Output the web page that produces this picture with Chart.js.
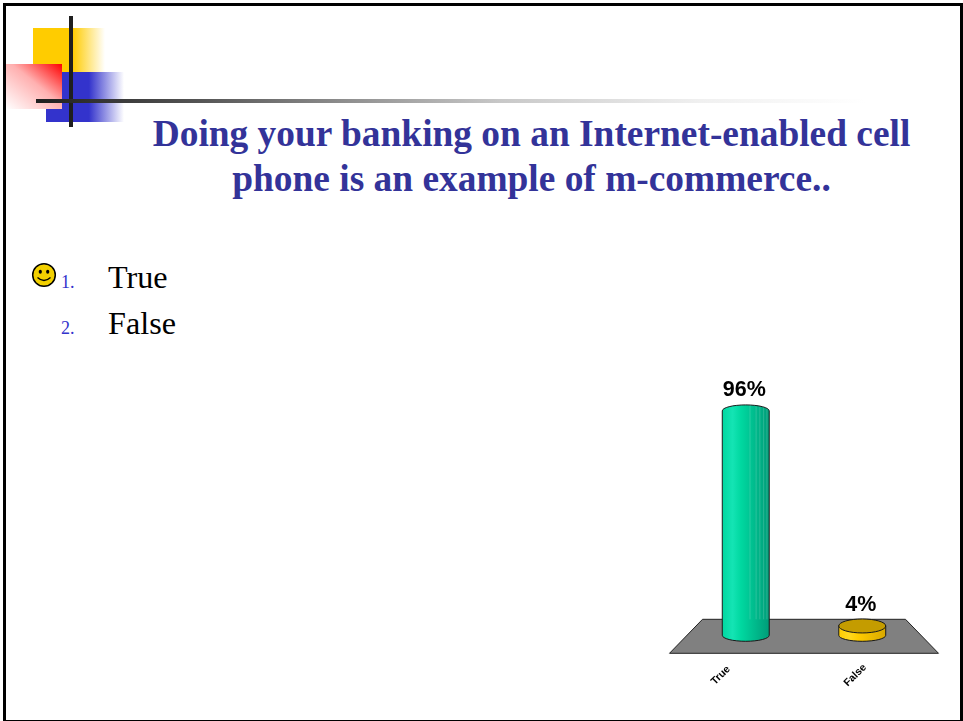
<!DOCTYPE html>
<html>
<head>
<meta charset="utf-8">
<title>m-commerce poll</title>
<script src="https://cdn.jsdelivr.net/npm/chart.js@4"></script>
<style>
    html, body { margin: 0; padding: 0; background: #fff; }
    .slide { position: relative; width: 963px; height: 721px; overflow: hidden; }
    .frame { position: absolute; left: 3px; top: 3px; width: 954px; height: 714px; border: 3px solid #000; }
    .deco { position: absolute; }
    .yellow { left: 33px; top: 28px; width: 72px; height: 44px; background: linear-gradient(90deg, #ffcc00 0, #ffcc00 55%, #fff 100%); }
    .blue { left: 46px; top: 72px; width: 78px; height: 50px; background: linear-gradient(90deg, #3333cc 0, #3333cc 55%, #fff 100%); }
    .red { left: 6px; top: 64px; width: 56px; height: 45px; background: linear-gradient(to top right, #fff 0, #ffb0b0 55%, #ff0000 100%); }
    .vline { left: 69px; top: 16px; width: 4px; height: 111px; background: #1f1f1f; }
    .hline { left: 36px; top: 99px; width: 830px; height: 4px;
        background: linear-gradient(90deg, #1f1f1f 0, #555 164px, #909090 314px, #c8c8c8 464px, #f0f0f0 664px, #fff 100%); }
    .title { position: absolute; left: 100px; width: 863px; top: 111px; text-align: center; color: #333399;
        font: bold 37.4px/45px "Liberation Serif", serif; }
    .item { position: absolute; left: 108px; font: 32.2px "Liberation Serif", serif; color: #000; }
    .num { position: absolute; left: 61px; font: 18px "Liberation Serif", serif; color: #3333cc; }
    .smiley { position: absolute; left: 31px; top: 262px; }
    #chartBox { position: absolute; left: 660px; top: 370px; width: 290px; height: 340px; }
</style>
</head>
<body>
<div class="slide">
    <div class="deco yellow"></div>
    <div class="deco blue"></div>
    <div class="deco red"></div>
    <div class="deco vline"></div>
    <div class="deco hline"></div>
    <div class="frame"></div>
    <div class="title">Doing your banking on an Internet-enabled cell<br>phone is an example of m-commerce..</div>
    <svg class="smiley" width="26" height="26" viewBox="0 0 26 26">
        <circle cx="13" cy="13" r="11.3" fill="#f2d000" stroke="#000" stroke-width="1.5"/>
        <ellipse cx="9.3" cy="9.8" rx="1.6" ry="2" fill="#000"/>
        <ellipse cx="16.7" cy="9.8" rx="1.6" ry="2" fill="#000"/>
        <path d="M6.5 15.5 Q13 21.5 19.5 15.5" fill="none" stroke="#000" stroke-width="1.3"/>
    </svg>
    <div class="num" style="top:272px">1.</div>
    <div class="item" style="top:259px">True</div>
    <div class="num" style="top:318px">2.</div>
    <div class="item" style="top:305px">False</div>
    <div id="chartBox"><canvas id="poll"></canvas></div>
</div>
<script>
const categories = ['True', 'False'];
const percentages = [96, 4];
const bodyColors = ['#00d8a0', '#ffcc00'];
const lightColors = ['#14e4b4', '#ffd820'];
const shadeColors = ['#009c78', '#d8a800'];
const topColors = ['#00d8a0', '#c49c00'];
// how far each rotated axis label sits left of its bar
const labelShift = [25, 7];

// ----- grey floor under the cylinders, hung off the chart area -----//
const floorPlugin = {
    id: 'floor',
    beforeDatasetsDraw(chart) {
        const { ctx, chartArea: a } = chart;
        ctx.save();
        ctx.fillStyle = '#808080';
        ctx.strokeStyle = '#222';
        ctx.lineWidth = 1;
        ctx.beginPath();
        ctx.moveTo(a.left + 15, a.bottom - 16);
        ctx.lineTo(a.right - 15, a.bottom - 16);
        ctx.lineTo(a.right + 18, a.bottom + 18);
        ctx.lineTo(a.left - 18, a.bottom + 18);
        ctx.closePath();
        ctx.fill();
        ctx.stroke();
        ctx.restore();
    }
};

// facets of the cylinder wall, bright on the left and ribbed towards the right
function wallGradient(ctx, left, right, i) {
    const g = ctx.createLinearGradient(left, 0, right, 0);
    g.addColorStop(0, bodyColors[i]);
    g.addColorStop(0.22, lightColors[i]);
    g.addColorStop(0.4, bodyColors[i]);
    g.addColorStop(1, shadeColors[i]);
    return g;
}

//----- turns each bar into a cylinder, then writes the value and category text -----//
const cylinderPlugin = {
    id: 'cylinder',
    afterDatasetsDraw(chart) {
        const { ctx, chartArea: a } = chart;
        const meta = chart.getDatasetMeta(0);
        meta.data.forEach((bar, i) => {
            const left = bar.x - bar.width / 2, right = bar.x + bar.width / 2;
            const rx = bar.width / 2, ry = 6;
            ctx.save();
            ctx.strokeStyle = '#1a1a1a';
            ctx.lineWidth = 1;
            ctx.fillStyle = wallGradient(ctx, left, right, i);
            ctx.beginPath();
            ctx.moveTo(left, bar.y);
            ctx.lineTo(left, bar.base);
            ctx.ellipse(bar.x, bar.base, rx, ry, 0, Math.PI, 0, true);
            ctx.lineTo(right, bar.y);
            ctx.ellipse(bar.x, bar.y, rx, ry, 0, 0, Math.PI, true);
            ctx.closePath();
            ctx.fill();
            // thin ribs on the shaded side, above the floor's back edge
            ctx.save();
            ctx.clip();
            ctx.fillStyle = 'rgba(255,255,255,0.16)';
            [0.58, 0.71, 0.79, 0.87, 0.94].forEach(f => {
                ctx.fillRect(left + bar.width * f, bar.y - ry, 1, Math.max(0, a.bottom - 16 - bar.y + ry));
            });
            ctx.restore();
            ctx.stroke();
            // the top cap only shows as a separate face on the short cylinder
            if (percentages[i] < 50) {
                ctx.fillStyle = topColors[i];
                ctx.beginPath();
                ctx.ellipse(bar.x, bar.y, rx, ry + 1, 0, 0, Math.PI * 2);
                ctx.fill();
                ctx.stroke();
            }
            ctx.fillStyle = '#000';
            ctx.textAlign = 'center';
            ctx.textBaseline = 'alphabetic';
            ctx.font = 'bold 21.5px "Liberation Sans", Arial, sans-serif';
            ctx.fillText(percentages[i] + '%', bar.x - 1.5, bar.y - 14.5);
            ctx.translate(bar.x - labelShift[i], a.bottom + 40);
            ctx.rotate(-Math.PI / 4);
            ctx.font = 'bold 10.5px "Liberation Sans", Arial, sans-serif';
            ctx.textBaseline = 'middle';
            ctx.fillText(categories[i], 0, 0);
            ctx.restore();
        });
    }
};

new Chart(document.getElementById('poll'), {
    type: 'bar',
    data: {
        labels: categories,
        datasets: [{
            data: percentages,
            backgroundColor: 'rgba(0,0,0,0)',
            borderWidth: 0,
            barPercentage: 0.403,
            categoryPercentage: 1
        }]
    },
    options: {
        responsive: true,
        maintainAspectRatio: false,
        animation: false,
        layout: { padding: { left: 27.5, right: 29.5, top: 0, bottom: 74.7 } },
        plugins: { legend: { display: false }, tooltip: { enabled: false } },
        scales: {
            x: { display: false },
            y: { display: false, min: 0, max: 113.5 }
        }
    },
    plugins: [floorPlugin, cylinderPlugin]
});
</script>
</body>
</html>
